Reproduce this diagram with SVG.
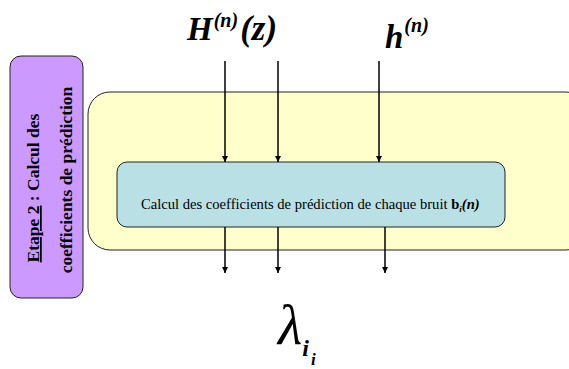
<svg xmlns="http://www.w3.org/2000/svg" width="569" height="369" viewBox="0 0 569 369">
<style>
text{font-family:"Liberation Serif","Times New Roman",Times,serif;fill:#000}
.bi{font-weight:bold;font-style:italic}
.b{font-weight:bold}
.box{stroke:#222;stroke-width:1}
.conn line{stroke:#000;stroke-width:1.5}
</style>
<defs>
<marker id="ah" viewBox="0 0 8 8" refX="8" refY="4" markerWidth="6" markerHeight="6" markerUnits="userSpaceOnUse" orient="auto">
<path d="M0,0 L8,4 L0,8 z" fill="#000"/>
</marker>
</defs>
<rect width="569" height="369" fill="#fff"/>
<g id="etape">
<rect class="box" x="10" y="56" width="73" height="242" rx="11" fill="#CC99FF"/>
<text font-family="Liberation Serif, serif" class="b" font-size="17.5" text-anchor="middle" transform="translate(39,188) rotate(-90)"><tspan text-decoration="underline">Etape 2</tspan> : Calcul des</text>
<text font-family="Liberation Serif, serif" class="b" font-size="17.5" text-anchor="middle" transform="translate(72,180) rotate(-90)">coefficients de prédiction</text>
</g>
<g id="zone">
<rect class="box" x="88" y="92" width="500" height="158" rx="22" fill="#FFFFCC"/>
</g>
<g id="calcul">
<rect class="box" x="117" y="162" width="388" height="65" rx="10" fill="#B9E0E4"/>
<text font-family="Liberation Serif, serif" font-size="14.6" x="141" y="209">Calcul des coefficients de prédiction de chaque bruit <tspan class="b">b</tspan><tspan class="bi" font-size="9" dy="3">i</tspan><tspan class="bi" dy="-3">(n)</tspan></text>
</g>
<g id="Hz">
<text font-family="Liberation Serif, serif" class="bi" font-size="33" x="187" y="40">H<tspan font-size="20" dy="-13" dx="1">(n)</tspan><tspan font-size="35" dy="13" dx="2">(z)</tspan></text>
</g>
<g id="hn">
<text font-family="Liberation Serif, serif" class="bi" font-size="33" x="385" y="48">h<tspan font-size="20" dy="-16" dx="1">(n)</tspan></text>
</g>
<g id="lambda">
<text font-family="DejaVu Serif, serif" font-style="italic" font-size="56" x="278" y="344">λ<tspan font-family="Liberation Serif, serif" class="bi" font-size="24" dy="12">i</tspan><tspan font-family="Liberation Serif, serif" class="bi" font-size="17" dy="9" dx="2">i</tspan></text>
</g>
<g class="conn" id="connectors">
<line x1="225" y1="61" x2="225" y2="162" marker-end="url(#ah)"/>
<line x1="278" y1="61" x2="278" y2="162" marker-end="url(#ah)"/>
<line x1="379" y1="61" x2="379" y2="162" marker-end="url(#ah)"/>
<line x1="225" y1="227" x2="225" y2="273" marker-end="url(#ah)"/>
<line x1="278" y1="227" x2="278" y2="273" marker-end="url(#ah)"/>
<line x1="385" y1="227" x2="385" y2="273" marker-end="url(#ah)"/>
</g>
</svg>
